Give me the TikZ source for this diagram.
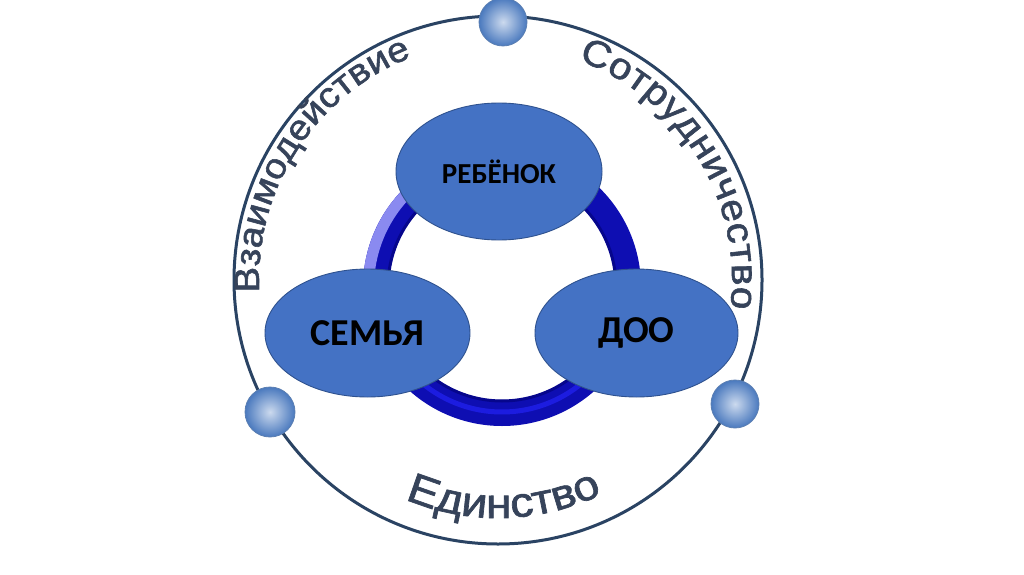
\documentclass[tikz,border=0pt]{standalone}
\usepackage{fontspec}
\newfontfamily\arialfont[FakeStretch=1.1,FakeBold=1.6]{Liberation Sans}
\newfontfamily\calfont{Carlito}
\usetikzlibrary{shapes.geometric,decorations.text,calc}
\definecolor{ringline}{HTML}{2A4363}
\definecolor{ellfill}{HTML}{4472C4}
\definecolor{elldraw}{HTML}{2F528F}
\definecolor{ringblue}{RGB}{14,14,178}
\definecolor{ringlight}{HTML}{8A8AF0}
\definecolor{ringdark}{RGB}{6,6,140}
\definecolor{arctext}{HTML}{36435A}
\definecolor{ballin}{HTML}{CCDAEE}
\definecolor{ballout}{HTML}{4A79BE}
\definecolor{balledge}{HTML}{5B7FB2}
\tikzset{
  keynode/.style={ellipse, draw=elldraw, line width=0.9pt, fill=ellfill, inner sep=0pt,
    font=\calfont\bfseries, text=black},
  ballnode/.style={circle, draw=balledge, line width=0.8pt, inner sep=0pt,
    minimum size=#1, inner color=ballin, outer color=ballout},
}
\begin{document}
\begin{tikzpicture}[x=1pt,y=1pt]
\useasboundingbox (0,0) rectangle (1024,574);
\fill[white] (0,0) rectangle (1024,574);
\coordinate (C) at (498,294);
\coordinate (R) at (502,287);
% outer circle
\draw[ringline, line width=3pt] (C) circle[radius=264];
% curved texts
\path[decorate, decoration={text along path, text align=fit to path,
  text={|\arialfont\fontsize{35}{35}\selectfont\color{arctext}|Взаимодействие}}]
  ($(C)+(183:239)$) arc[start angle=183, end angle=112, radius=239];
\path[decorate, decoration={text along path, text align=fit to path,
  text={|\arialfont\fontsize{37}{37}\selectfont\color{arctext}|Сотрудничество}}]
  ($(C)+(70:234)$) arc[start angle=70, end angle=-7, radius=234];
\path[decorate, decoration={text along path, text align=fit to path,
  text={|\arialfont\fontsize{42}{42}\selectfont\color{arctext}|Единство}}]
  ($(C)+(247:238)$) arc[start angle=247, end angle=296, radius=238];
% spheres
\node[ballnode=48pt] (btop) at (503,552) {};
\node[ballnode=50pt] (bleft) at (270,162) {};
\node[ballnode=48pt] (bright) at (735,170) {};
% inner ring
\draw[ringblue, line width=26pt] (R) circle[radius=126];
\draw[ringdark, line width=3pt] (R) circle[radius=114];
\draw[ringlight, line width=11pt] ($(R)+(105:133.5)$) arc[start angle=105, end angle=200, radius=133.5];
\draw[blue!85!white, line width=5pt, opacity=0.6] ($(R)+(215:125)$) arc[start angle=215, end angle=325, radius=125];
% ellipses
\node[keynode, minimum width=206pt, minimum height=137pt, font=\calfont\bfseries\fontsize{29}{29}\selectfont] (child) at (499,402.5) {РЕБЁНОК};
\node[keynode, minimum width=205pt, minimum height=128pt, font=\calfont\bfseries\fontsize{38}{38}\selectfont] (family) at (367.5,241) {СЕМЬЯ};
\node[keynode, minimum width=203pt, minimum height=128pt, font=\calfont\bfseries\fontsize{38}{38}\selectfont] (doo) at (636.5,241) {ДОО};
\end{tikzpicture}
\end{document}
